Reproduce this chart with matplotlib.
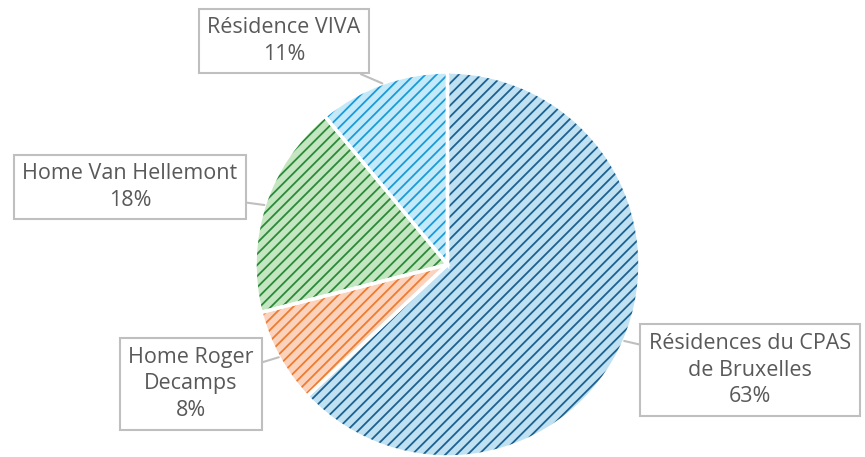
import numpy as np
import matplotlib
matplotlib.use("Agg")
import matplotlib.pyplot as plt

# data
labels = ["Résidences du CPAS\nde Bruxelles", "Home Roger\nDecamps", "Home Van Hellemont", "Résidence VIVA"]
values = [63, 8, 18, 11]
face_colors = ["#bfe1f2", "#fbd3bd", "#c4e6c0", "#c4eafa"]
hatch_colors = ["#1c6190", "#ee7b30", "#2a8a3a", "#1a9bd7"]
label_pos = [(750, 370), (191, 384), (130, 187), (284, 41)]  # pixel centres of the label boxes

plt.rcParams['hatch.linewidth'] = 1.3
fig = plt.figure(figsize=(8.65, 4.57), dpi=100)
ax = fig.add_axes([0, 0, 1, 1])

cx, cy, r = 447.5, 264.5, 192.5

# y axis is inverted, so counterclock=True draws clockwise on screen; start at top (-90 in data)
w1, _ = ax.pie(values, colors=face_colors, startangle=-90, counterclock=True,
               center=(cx, cy), radius=r, wedgeprops=dict(linewidth=0), frame=True)
w2, _ = ax.pie(values, colors=["none"] * 4, startangle=-90, counterclock=True,
               center=(cx, cy), radius=r, wedgeprops=dict(linewidth=0), frame=True)
for w, hc in zip(w2, hatch_colors):
    w.set_hatch("///")
    w.set_edgecolor(hc)
    w.set_facecolor("none")
w3, _ = ax.pie(values, colors=["none"] * 4, startangle=-90, counterclock=True,
               center=(cx, cy), radius=r, wedgeprops=dict(linewidth=2.5, edgecolor="white"), frame=True)
ax.set_xlim(0, 865)
ax.set_ylim(457, 0)
ax.set_aspect("equal")
ax.axis("off")

# labels with leader lines
cum = np.cumsum([0] + values[:-1])
for lab, v, c0, (tx, ty) in zip(labels, values, cum, label_pos):
    mid = (c0 + v / 2) / sum(values) * 2 * np.pi
    px = cx + r * np.sin(mid)
    py = cy - r * np.cos(mid)
    ax.annotate(f"{lab}\n{v}%", xy=(px, py), xytext=(tx, ty),
                ha="center", va="center", fontsize=15.5, color="#595959",
                family=["Open Sans", "DejaVu Sans"], linespacing=1.35,
                bbox=dict(boxstyle="square,pad=0.4", fc="white", ec="#bfbfbf", lw=1.5),
                arrowprops=dict(arrowstyle="-", color="#bfbfbf", lw=1.5, shrinkA=0, shrinkB=0))

fig.savefig("out.png", dpi=100)
